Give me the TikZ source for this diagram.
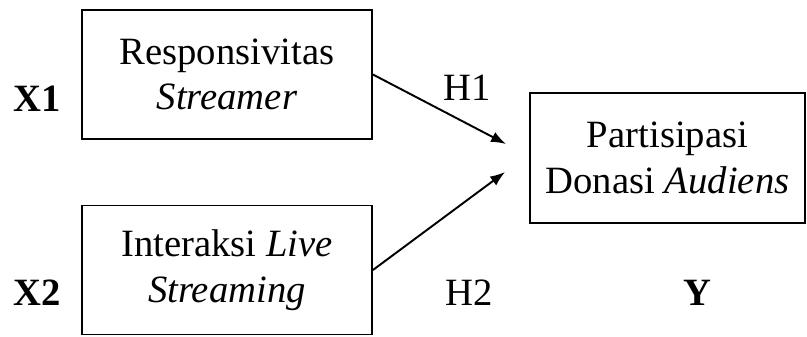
\documentclass[tikz,border=0pt]{standalone}
\usepackage{fontspec}
\setmainfont{Liberation Serif}
\usetikzlibrary{arrows.meta,calc}

\begin{document}
\begin{tikzpicture}[
  x=0.02cm, y=-0.02cm,
  var/.style={rectangle, draw, line width=1.1pt, align=center, minimum width=5.8cm, minimum height=2.58cm, font=\fontsize{22}{26}\selectfont},
  tag/.style={anchor=base, font=\fontsize{22}{26}\selectfont\bfseries},
  hyp/.style={anchor=base, font=\fontsize{22}{26}\selectfont},
  arr/.style={-{Latex[length=0.3cm,width=0.22cm]}, line width=1.1pt}
]
\useasboundingbox (0,0) rectangle (807,336);

\node[var] (resp) at (227,74.5) {Responsivitas\\\textit{Streamer}};
\node[var] (inter) at (227,270) {Interaksi \textit{Live}\\\textit{Streaming}};
\node[var, minimum width=5.5cm, minimum height=2.6cm] (don) at (667.5,158) {Partisipasi\\Donasi \textit{Audiens}};

\node[tag] (x1) at (37,111) {X1};
\node[tag] (x2) at (37,305) {X2};
\node[tag] (y) at (697,305) {Y};
\node[hyp] (h1) at (467,100) {H1};
\node[hyp] (h2) at (469,305) {H2};

\coordinate (h1end) at ($(don.west)+(-23,-14)$);
\coordinate (h2end) at ($(don.west)+(-24,14)$);

\draw[arr] (resp.east) -- (h1end);
\draw[arr] (inter.east) -- (h2end);
\end{tikzpicture}
\end{document}
